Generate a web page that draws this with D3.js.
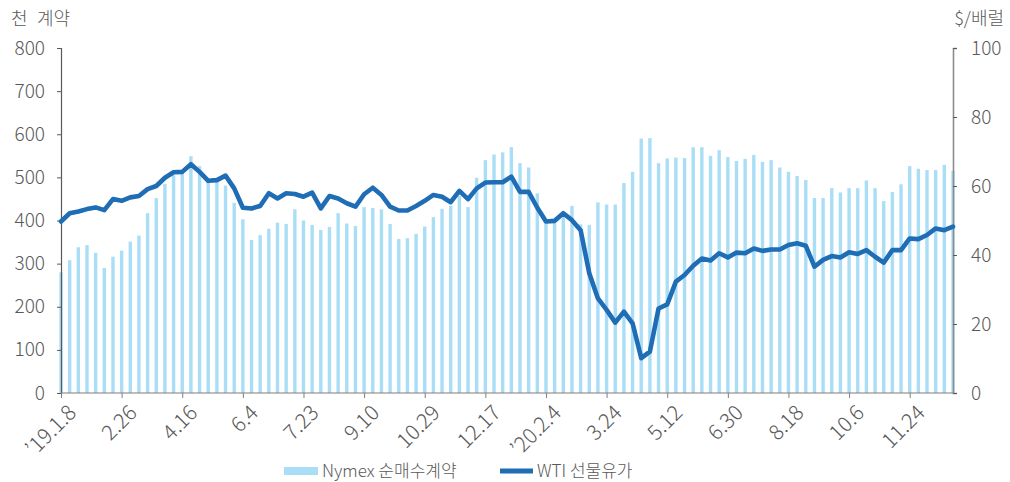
<!DOCTYPE html>
<html><head><meta charset="utf-8">
<script src="https://cdn.jsdelivr.net/npm/d3@7"></script>
<style>
html,body{margin:0;padding:0;background:#fff;}
text{font-family:"Noto Sans CJK KR","Noto Sans",sans-serif;fill:#595959;font-weight:300;}
</style></head>
<body><svg id="c" width="1010" height="482"></svg>
<script>
// weekly categories starting 2019-01-08 (104 weeks)
const startDate = "2019-01-08";
const weekCount = 104;
const tickLabels = ["’19.1.8","2.26","4.16","6.4","7.23","9.10","10.29","12.17","’20.2.4","3.24","5.12","6.30","8.18","10.6","11.24"];
const tickStep = 7;
const nymexNet = [280,308,338,343,325,290,316,330,351,365,
417,452,485,505,512,549,526,490,490,481,
441,403,355,366,381,395,392,426,400,390,
378,385,417,393,387,431,429,426,392,357,
359,369,386,408,427,434,457,431,499,540,
553,558,570,533,523,463,400,395,415,434,
391,390,442,437,437,487,513,590,591,533,
544,546,545,570,570,550,563,547,538,543,
552,536,540,523,513,503,494,452,452,475,
465,475,475,493,475,445,466,484,526,520,
517,517,529,515];
const wtiPrice = [49.7,52.1,52.6,53.3,53.8,53.0,56.2,55.7,56.7,57.1,
59.1,60.0,62.4,64.0,64.1,66.3,64.1,61.5,61.7,63.0,
59.3,53.7,53.5,54.2,57.9,56.4,57.9,57.7,56.9,58.1,
53.5,57.1,56.4,55.0,54.0,57.6,59.5,57.4,54.0,52.9,
52.9,54.2,55.7,57.4,56.9,55.3,58.6,56.2,59.3,61.0,
61.1,61.1,62.7,58.3,58.3,53.7,49.7,49.9,52.1,50.1,
47.2,34.7,27.4,24.1,20.4,23.6,20.2,10.1,12.0,24.5,
25.7,32.3,34.2,36.9,39.0,38.4,40.5,39.3,40.7,40.5,
41.9,41.2,41.6,41.6,42.9,43.4,42.7,36.6,38.6,39.7,
39.3,40.8,40.3,41.4,39.5,37.8,41.4,41.4,44.8,44.6,
45.8,47.7,47.2,48.2];
const leftTicks = [0,100,200,300,400,500,600,700,800];
const rightTicks = [0,20,40,60,80,100];
const seriesNames = ["Nymex 순매수계약","WTI 선물유가"];
const leftUnitParts = ["천","계약"], rightUnit = "$/배럴";

const parse = d3.utcParse("%Y-%m-%d");
const d0 = parse(startDate);
const categories = d3.range(weekCount).map(i => d3.utcWeek.offset(d0, i));

const svg = d3.select("#c");
const L = 61, R = 953, T = 48, B = 393;
const x = d3.scalePoint().domain(d3.range(weekCount)).range([L, R]);
const yL = d3.scaleLinear().domain([0, 800]).range([B, T]);
const yR = d3.scaleLinear().domain([0, 100]).range([B, T]);
const barColor = "#aadef7", lineColor = "#1f6db5";

// bars
const bw = 3.4;
svg.append("g").selectAll("rect").data(nymexNet).join("rect")
  .attr("x", (d, i) => x(i) - bw / 2).attr("width", bw)
  .attr("y", d => yL(d)).attr("height", d => yL(0) - yL(d))
  .attr("fill", barColor);

// left axis
const gl = svg.append("g").attr("transform", `translate(${L},0)`)
  .call(d3.axisLeft(yL).tickValues(leftTicks).tickSize(4).tickPadding(12).tickFormat(d3.format("d")));
gl.select(".domain").attr("stroke", "#595959").attr("stroke-width", 1.2);
gl.selectAll(".tick line").attr("stroke", "#595959");
gl.selectAll(".tick text").attr("font-size", 19).style("fill", "#595959").attr("font-family", null);

// right axis
const gr = svg.append("g").attr("transform", `translate(${R},0)`)
  .call(d3.axisRight(yR).tickValues(rightTicks).tickSize(4).tickPadding(14).tickFormat(d3.format("d")));
gr.select(".domain").attr("stroke", "#8c8c8c").attr("stroke-width", 1.6);
gr.selectAll(".tick line").attr("stroke", "#595959");
gr.selectAll(".tick text").attr("font-size", 19).style("fill", "#595959");

// bottom axis
const tickIdx = tickLabels.map((t, k) => k * tickStep);
const gb = svg.append("g").attr("transform", `translate(0,${B})`)
  .call(d3.axisBottom(x).tickValues(tickIdx).tickSize(5).tickFormat((d, k) => tickLabels[k]));
gb.select(".domain").attr("stroke", "#7f7f7f").attr("stroke-width", 1.2).attr("d", `M${L},0H${R}`);
gb.selectAll(".tick line").attr("stroke", "#7f7f7f");
gb.selectAll(".tick text").attr("font-size", 21).style("fill", "#595959")
  .attr("text-anchor", "end").attr("dy", null).attr("y", null)
  .attr("transform", "translate(16,21) rotate(-45)");
svg.selectAll("g text").attr("font-family", null);

// line
svg.append("path").datum(wtiPrice)
  .attr("d", d3.line().x((d, i) => x(i)).y(d => yR(d)))
  .attr("fill", "none").attr("stroke", lineColor).attr("stroke-width", 4.6)
  .attr("stroke-linejoin", "round").attr("stroke-linecap", "round");

// units
svg.append("text").attr("x", 11).attr("y", 25).attr("font-size", 18).text(leftUnitParts[0]);
svg.append("text").attr("x", 37).attr("y", 25).attr("font-size", 18).text(leftUnitParts[1]);
svg.append("text").attr("x", 1004).attr("y", 25).attr("font-size", 18).attr("text-anchor", "end").text(rightUnit);

// legend
const lg = svg.append("g");
lg.append("rect").attr("x", 284).attr("y", 467).attr("width", 34).attr("height", 8).attr("fill", barColor);
lg.append("text").attr("x", 322).attr("y", 477).attr("font-size", 17).text(seriesNames[0]);
lg.append("line").attr("x1", 500).attr("x2", 533).attr("y1", 471).attr("y2", 471).attr("stroke", lineColor).attr("stroke-width", 5);
lg.append("text").attr("x", 537).attr("y", 477).attr("font-size", 17).text(seriesNames[1]);
</script></body></html>
